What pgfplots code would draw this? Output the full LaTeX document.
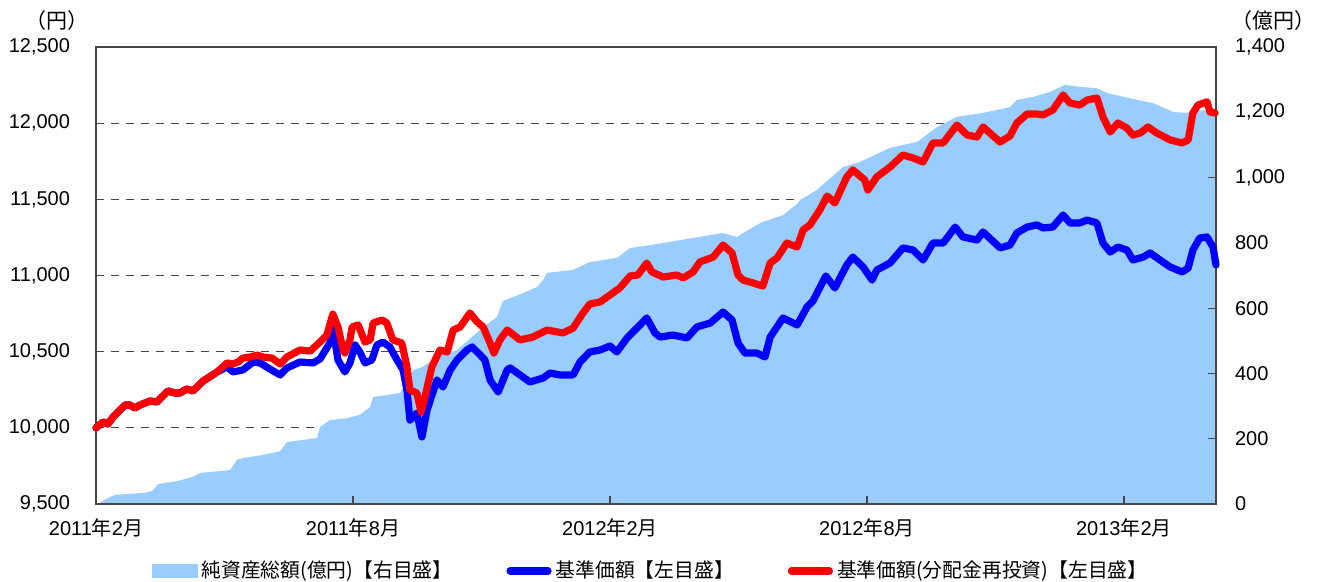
\documentclass[border=0pt]{standalone}
\usepackage{fontspec}
\setmainfont{Liberation Sans}
\newfontfamily\jp{Noto Sans CJK JP}
\usepackage{pgfplots}
\pgfplotsset{compat=1.18}
\definecolor{areablue}{RGB}{153,204,255}
\definecolor{navblue}{RGB}{0,0,255}
\definecolor{navred}{RGB}{255,0,0}
\definecolor{axgray}{RGB}{70,70,70}
\pgfplotsset{base/.style={
  at={(0,0)}, anchor=south west, scale only axis,
  width=560pt, height=228.5pt, xmin=0, xmax=26.15,
  scaled y ticks=false, scaled x ticks=false,
  tick label style={font=\fontsize{10pt}{12pt}\selectfont},
  /pgf/number format/.cd, 1000 sep={,}, assume math mode=true, /pgfplots/.cd,
}}
\begin{document}
\begin{tikzpicture}
\useasboundingbox (-48pt,-39pt) rectangle (610.5pt,252pt);
% axis 1: grid, left labels, x labels
\begin{axis}[base, ymin=9500, ymax=12500,
  ytick={9500,10000,...,12500},
  xtick={0,6,12,18,24},
  xticklabels={2011{\jp 年}2{\jp 月},2011{\jp 年}8{\jp 月},2012{\jp 年}2{\jp 月},2012{\jp 年}8{\jp 月},2013{\jp 年}2{\jp 月}},
  major tick length=0pt,
  axis line style={draw=none},
  ymajorgrids,
  grid style={draw=axgray, line width=0.5pt, dash pattern=on 4pt off 3.5pt},
  yticklabel style={xshift=-9.5pt},
  xticklabel style={yshift=-4pt},
]
\addplot[draw=none] coordinates {(0,9500)};
\end{axis}
% axis 2: net assets area, right axis, frame
\begin{axis}[base, ymin=0, ymax=1400,
  ytick={0,200,...,1400}, ytick pos=right, yticklabel pos=right,
  xtick={6,12,18,24}, xticklabels={\mbox{},\mbox{},\mbox{},\mbox{}}, xtick pos=left,
  tick align=inside, major tick length=4pt,
  axis on top,
  axis line style={draw=axgray, line width=0.75pt},
  every tick/.style={draw=axgray, line width=0.6pt},
  yticklabel style={xshift=6pt},
]
\addplot[fill=areablue, draw=none] coordinates {
(0,0) (0.09,3) (0.23,15) (0.44,28) (1.10,34) (1.31,40) (1.45,61) (1.89,70)
(2.26,83) (2.43,95) (3.13,104) (3.29,135) (3.43,141) (3.90,150) (4.30,162)
(4.46,190) (5.16,202) (5.23,236) (5.46,257) (5.86,263) (6.16,273) (6.40,297)
(6.47,328) (6.79,334) (7.10,340) (7.40,410) (7.63,420) (7.96,450) (8.43,472)
(9.04,542) (9.36,573) (9.50,622) (9.97,646) (10.30,665) (10.44,686) (10.53,708)
(11.14,717) (11.53,741) (12.16,754) (12.47,784) (12.93,793) (13.40,803)
(14.34,824) (14.64,830) (14.97,818) (15.11,830) (15.43,855) (15.57,864)
(16.04,885) (16.37,919) (16.44,931) (16.83,962) (17.44,1032) (17.84,1048)
(18.54,1091) (19.17,1109) (19.64,1155) (20.10,1186) (20.71,1198) (21.34,1216)
(21.50,1238) (21.88,1247) (22.27,1262) (22.62,1284) (23.04,1277) (23.37,1274)
(23.60,1259) (24.21,1241) (24.68,1228) (25.15,1201) (25.47,1198) (25.61,1207)
(26.15,1204)
} \closedcycle;
\end{axis}
% axis 3: NAV lines and legend
\begin{axis}[base, ymin=9500, ymax=12500, hide axis, clip=false,
  legend columns=3,
  legend style={at={(0.496,-0.1466)}, anchor=center, draw=none, fill=none,
    font=\jp\fontsize{9.9pt}{11pt}\selectfont,
    /tikz/every even column/.append style={column sep=25pt}},
  legend cell align=left,
]
\addlegendimage{legend image code/.code={\fill[areablue] (-4pt,-3.25pt) rectangle (18.5pt,3.25pt);}}
\addlegendentry{純資産総額(億円)【右目盛】}
\addplot[navblue, line width=3.6pt, line join=round, line cap=round,
  legend image code/.code={\draw[navblue, line width=3.6pt, line cap=round] (1.75pt,0pt) -- (20.75pt,0pt);}] coordinates {
(0,10000) (0.16,10038) (0.28,10025) (0.40,10071) (0.68,10150) (0.79,10150)
(0.91,10130) (1.03,10150) (1.26,10176) (1.42,10170) (1.68,10242) (1.84,10229)
(1.96,10229) (2.12,10255) (2.26,10242) (2.50,10307) (2.83,10367) (3.06,10400)
(3.20,10367) (3.43,10380) (3.67,10432) (3.83,10426) (4.06,10386) (4.30,10347)
(4.46,10393) (4.76,10432) (5.07,10426) (5.23,10452) (5.46,10557) (5.53,10662)
(5.65,10445) (5.81,10367) (5.93,10426) (6.05,10544) (6.16,10498) (6.28,10426)
(6.44,10445) (6.56,10544) (6.70,10563) (6.86,10531) (7.03,10445) (7.17,10380)
(7.26,10248) (7.33,10051) (7.49,10097) (7.61,9940) (7.73,10117) (7.96,10314)
(8.10,10268) (8.27,10380) (8.43,10445) (8.66,10511) (8.78,10531) (8.97,10478)
(9.08,10445) (9.20,10314) (9.39,10235) (9.60,10380) (9.67,10393) (9.90,10347)
(10.13,10301) (10.44,10327) (10.60,10360) (10.83,10347) (11.14,10347)
(11.30,10432) (11.53,10498) (11.77,10511) (12.00,10537) (12.16,10498)
(12.40,10590) (12.63,10655) (12.86,10721) (13.05,10623) (13.17,10596)
(13.47,10609) (13.80,10590) (14.03,10662) (14.34,10688) (14.64,10760)
(14.85,10708) (14.99,10557) (15.15,10491) (15.43,10491) (15.62,10465)
(15.74,10596) (16.04,10721) (16.37,10675) (16.60,10793) (16.74,10833)
(17.04,10997) (17.25,10918) (17.53,11069) (17.67,11121) (17.91,11056)
(18.12,10970) (18.23,11036) (18.54,11082) (18.84,11181) (19.08,11167)
(19.31,11102) (19.54,11213) (19.78,11213) (20.06,11318) (20.24,11253)
(20.57,11233) (20.71,11286) (21.11,11181) (21.34,11200) (21.50,11279)
(21.74,11318) (21.97,11332) (22.11,11312) (22.34,11318) (22.58,11397)
(22.74,11345) (22.97,11345) (23.14,11364) (23.37,11345) (23.51,11213)
(23.68,11154) (23.86,11187) (24.07,11167) (24.21,11102) (24.45,11121)
(24.61,11148) (24.84,11102) (25.08,11056) (25.36,11023) (25.50,11049)
(25.61,11167) (25.77,11246) (25.94,11253) (26.08,11187) (26.15,11069)
};
\addlegendentry{基準価額【左目盛】}
\addplot[navred, line width=3.6pt, line join=round, line cap=round,
  legend image code/.code={\draw[navred, line width=3.6pt, line cap=round] (1.75pt,0pt) -- (20.75pt,0pt);}] coordinates {
(0,10000) (0.16,10038) (0.28,10025) (0.40,10071) (0.68,10150) (0.79,10150)
(0.91,10130) (1.03,10150) (1.26,10176) (1.42,10170) (1.68,10242) (1.84,10229)
(1.96,10229) (2.12,10255) (2.26,10242) (2.50,10307) (2.83,10367) (3.06,10426)
(3.18,10419) (3.32,10432) (3.43,10458) (3.60,10465) (3.76,10478) (3.90,10465)
(4.11,10458) (4.30,10419) (4.46,10465) (4.76,10511) (5.00,10504) (5.23,10563)
(5.39,10609) (5.53,10747) (5.65,10662) (5.77,10511) (5.81,10491) (5.93,10577)
(5.98,10662) (6.12,10675) (6.28,10563) (6.40,10577) (6.47,10688) (6.68,10708)
(6.79,10688) (6.93,10577) (7.14,10557) (7.26,10399) (7.33,10248) (7.49,10229)
(7.59,10104) (7.68,10202) (7.84,10399) (8.03,10511) (8.20,10498) (8.34,10642)
(8.50,10662) (8.73,10754) (8.90,10695) (9.04,10662) (9.20,10557) (9.29,10491)
(9.43,10577) (9.60,10642) (9.90,10577) (10.20,10596) (10.53,10642)
(10.90,10623) (11.14,10655) (11.37,10754) (11.53,10813) (11.77,10826)
(12.00,10872) (12.23,10918) (12.47,10997) (12.65,11003) (12.86,11082)
(12.98,11023) (13.24,10990) (13.56,11003) (13.71,10984) (13.94,11023)
(14.10,11089) (14.41,11121) (14.64,11200) (14.85,11148) (14.99,11003)
(15.11,10970) (15.27,10957) (15.57,10931) (15.74,11082) (15.90,11115)
(16.13,11213) (16.37,11187) (16.51,11299) (16.67,11332) (16.90,11430)
(17.07,11522) (17.25,11476) (17.53,11647) (17.67,11693) (17.95,11627)
(18.02,11561) (18.23,11647) (18.54,11712) (18.84,11791) (19.08,11771)
(19.31,11745) (19.54,11870) (19.78,11870) (20.10,11988) (20.34,11922)
(20.57,11909) (20.71,11975) (21.11,11876) (21.34,11916) (21.50,12001)
(21.74,12060) (21.97,12060) (22.11,12054) (22.34,12086) (22.58,12185)
(22.74,12132) (22.97,12119) (23.14,12152) (23.37,12165) (23.51,12041)
(23.68,11942) (23.86,12001) (24.07,11968) (24.21,11922) (24.38,11935)
(24.56,11975) (24.77,11935) (25.08,11890) (25.36,11870) (25.50,11890)
(25.61,12067) (25.73,12119) (25.94,12140) (26.01,12073) (26.13,12067)
};
\addlegendentry{基準価額(分配金再投資)【左目盛】}
\node[font=\jp\fontsize{10.5pt}{12pt}\selectfont] at (rel axis cs:-0.0348,1.057) {（円）};
\node[font=\jp\fontsize{10.5pt}{12pt}\selectfont] at (rel axis cs:1.051,1.057) {（億円）};
\end{axis}
\end{tikzpicture}
\end{document}
